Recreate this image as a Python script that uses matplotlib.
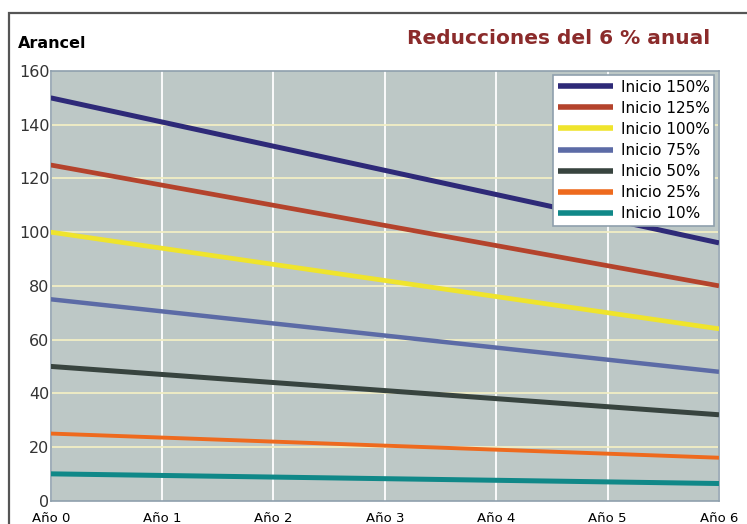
import matplotlib
matplotlib.use("Agg")
import matplotlib.pyplot as plt
from matplotlib.patches import Rectangle

years = ["Año 0", "Año 1", "Año 2", "Año 3", "Año 4", "Año 5", "Año 6"]
labels = ["Inicio 150%", "Inicio 125%", "Inicio 100%", "Inicio 75%", "Inicio 50%", "Inicio 25%", "Inicio 10%"]
s150 = [150, 141, 132, 123, 114, 105, 96]
s125 = [125, 117.5, 110, 102.5, 95, 87.5, 80]
s100 = [100, 94, 88, 82, 76, 70, 64]
s75 = [75, 70.5, 66, 61.5, 57, 52.5, 48]
s50 = [50, 47, 44, 41, 38, 35, 32]
s25 = [25, 23.5, 22, 20.5, 19, 17.5, 16]
s10 = [10, 9.4, 8.8, 8.2, 7.6, 7.0, 6.4]
series = [s150, s125, s100, s75, s50, s25, s10]
colors = ["#2e2a78", "#b4432c", "#efe42c", "#5c6ba6", "#38443f", "#ee6a1e", "#108888"]
widths = [3.6, 3.4, 3.4, 3.2, 3.6, 2.8, 3.6]
yticks = [0, 20, 40, 60, 80, 100, 120, 140, 160]

fig = plt.figure(figsize=(7.47, 5.24), dpi=100)
fig.patch.set_facecolor("white")
# outer frame
fig.add_artist(Rectangle((9/747, -0.1), 1.0, 1 - 13/524 + 0.1, transform=fig.transFigure,
                         fill=False, edgecolor="#555555", linewidth=1.6))

ax = fig.add_axes([50.7/747, 1 - 500.7/524, (719 - 50.7)/747, (500.7 - 71)/524])
ax.set_facecolor("#bdc8c6")
x = list(range(len(years)))
for xi in x:
    ax.axvline(xi, color="white", lw=1.3, zorder=1)
for yt in yticks[1:-1]:
    ax.axhline(yt, color="#f2eec4", lw=1.3, zorder=1)
for s, c, w, lab in zip(series, colors, widths, labels):
    ax.plot(x, s, color=c, lw=w, label=lab, zorder=3, solid_capstyle="butt")
ax.set_xlim(0, 6)
ax.set_ylim(0, 160)
ax.set_xticks(x)
ax.set_xticklabels(years, fontsize=9.5, family="DejaVu Sans")
ax.set_yticks(yticks)
ax.set_yticklabels([str(v) for v in yticks], fontsize=11.5, color="#333333")
ax.tick_params(length=0, pad=1)
ax.tick_params(axis="x", pad=8)
for sp in ax.spines.values():
    sp.set_color("#8fa0ad")
    sp.set_linewidth(1.2)

leg = ax.legend(loc="upper right", bbox_to_anchor=(714/747, 1 - 75/524), bbox_transform=fig.transFigure,
                fontsize=11, handlelength=3.6, handletextpad=0.5, labelspacing=0.4,
                borderpad=0.3, borderaxespad=0, frameon=True, fancybox=False)
leg.get_frame().set_edgecolor("#8fa0ad")
leg.get_frame().set_linewidth(1.2)
leg.get_frame().set_facecolor("white")
leg.get_frame().set_alpha(1)
for h in leg.get_lines():
    h.set_linewidth(4)

fig.text(18/747, 1 - 44/524, "Arancel", fontsize=11.5, fontweight="bold", va="center", ha="left")
fig.text(710/747, 1 - 38/524, "Reducciones del 6 % anual", fontsize=14.5, fontweight="bold",
         color="#8b2b2b", va="center", ha="right")

fig.savefig("out.png", dpi=100)
